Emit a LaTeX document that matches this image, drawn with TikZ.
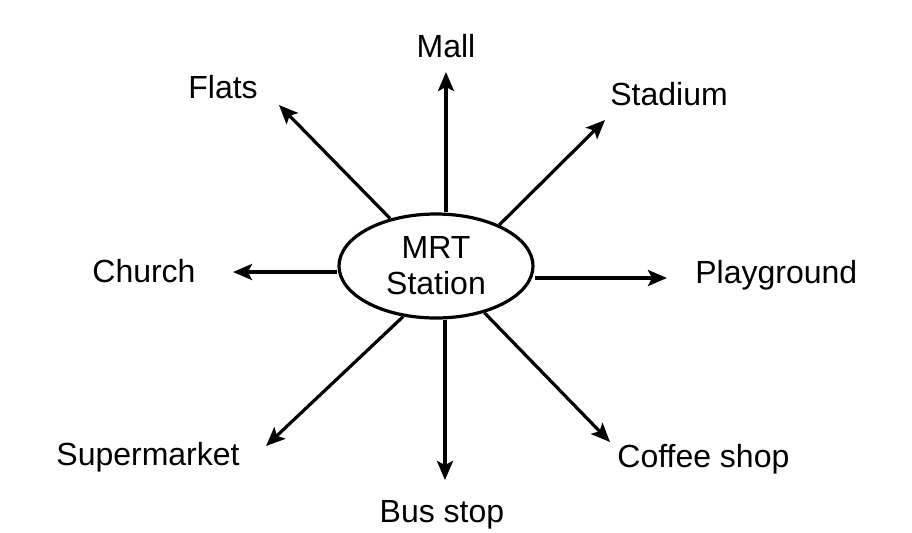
\documentclass[tikz,border=0pt]{standalone}
\usepackage{fontspec}
\setmainfont{Liberation Sans}
\usetikzlibrary{arrows.meta,shapes.geometric}
\begin{document}
\begin{tikzpicture}[x=0.5pt,y=-0.5pt,
  lbl/.style={inner sep=0pt,font=\fontsize{16}{18.5}\selectfont},
  arr/.style={line width=1.6pt,-{Stealth[length=9.5pt,width=8pt,inset=2pt]}},
  hub/.style={ellipse,draw,line width=1.6pt,minimum width=97pt,minimum height=52pt,inner sep=0pt,align=center,font=\fontsize{16}{18.5}\selectfont}]
\useasboundingbox (0,0) rectangle (912,532);
\node[hub] (mrt) at (436,266) {MRT\\[-0.5pt]Station};
% labels
\node[lbl,anchor=base] (mall) at (446,57) {Mall};
\node[lbl,anchor=base west] (flats) at (188,98) {Flats};
\node[lbl,anchor=base west] (stadium) at (610,105) {Stadium};
\node[lbl,anchor=base west] (church) at (92,282) {Church};
\node[lbl,anchor=base west] (play) at (695,283) {Playground};
\node[lbl,anchor=base east] (super) at (240,465) {Supermarket};
\node[lbl,anchor=base] (bus) at (442,522) {Bus stop};
\node[lbl,anchor=base west] (coffee) at (617,467) {Coffee shop};
% arrow tips
\coordinate (tMall) at (446,72);
\coordinate (tFlats) at (279,105);
\coordinate (tStad) at (605,120);
\coordinate (tChurch) at (233,272);
\coordinate (tPlay) at (667,278);
\coordinate (tSuper) at (266,446);
\coordinate (tBus) at (445,480);
\coordinate (tCoffee) at (610,442);
% connectors
\draw[arr] (mrt.north -| tMall) -- (tMall);
\draw[arr] (mrt.134) -- (tFlats);
\draw[arr] (mrt.33) -- (tStad);
\draw[arr] (mrt.west |- tChurch) -- (tChurch);
\draw[arr] (mrt.east |- tPlay) -- (tPlay);
\draw[arr] (mrt.237) -- (tSuper);
\draw[arr] (mrt.south -| tBus) -- (tBus);
\draw[arr] (mrt.-44) -- (tCoffee);
\end{tikzpicture}
\end{document}
